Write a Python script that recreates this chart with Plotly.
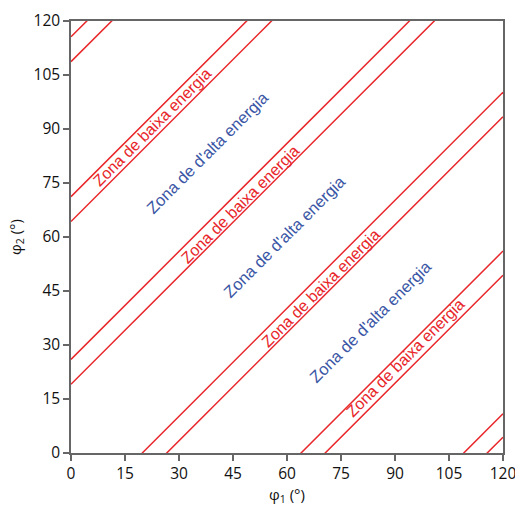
import plotly.graph_objects as go

# boundary lines: phi2 = phi1 + c
line_offsets = [115.6, 108.7, 71.2, 64.3, 26.0, 19.1, -19.8, -26.6, -63.9, -70.6, -109.1, -115.6]

# labels (phi1, phi2) centre positions
low_labels_x = [22.5, 47.0, 69.2, 93.0]
low_labels_y = [90.3, 68.9, 45.8, 26.4]
high_labels_x = [38.0, 59.4, 83.3]
high_labels_y = [83.6, 60.3, 36.7]
low_text = "Zona de baixa energia"
high_text = "Zona de d'alta energia"

tick_vals = [0, 15, 30, 45, 60, 75, 90, 105, 120]

RED = "#e8262a"
BLUE = "#3a56a5"

fig = go.Figure()
for c in line_offsets:
    fig.add_trace(go.Scatter(x=[0, 120], y=[c, 120 + c], mode="lines",
                             line=dict(color=RED, width=1.5),
                             showlegend=False, hoverinfo="skip"))

annotations = []
for x, y in zip(low_labels_x, low_labels_y):
    annotations.append(dict(x=x, y=y, text=low_text, showarrow=False, textangle=-45,
                            font=dict(family="Liberation Sans, Arial", size=16, color=RED)))
for x, y in zip(high_labels_x, high_labels_y):
    annotations.append(dict(x=x, y=y, text=high_text, showarrow=False, textangle=-45,
                            font=dict(family="Liberation Sans, Arial", size=16.5, color=BLUE)))

axis_common = dict(
    range=[0, 120], tickvals=tick_vals, ticks="outside", ticklen=6, tickwidth=1.5,
    tickcolor="#666666", showline=True, linecolor="#666666", linewidth=1.5,
    mirror=True, showgrid=False, zeroline=False, automargin=False,
    ticklabeloverflow="allow",
    tickfont=dict(family="Open Sans, DejaVu Sans", size=15.5, color="#111111"),
)

fig.update_layout(
    width=515, height=507,
    margin=dict(l=71, r=12, t=21, b=54),
    paper_bgcolor="white", plot_bgcolor="white",
    annotations=annotations,
    xaxis=dict(**axis_common,
               title=dict(text="φ<sub>1</sub> (°)", standoff=6,
                          font=dict(family="Open Sans, DejaVu Sans", size=15, color="#111111"))),
    yaxis=dict(**axis_common,
               title=dict(text="φ<sub>2</sub> (°)", standoff=8,
                          font=dict(family="Open Sans, DejaVu Sans", size=15, color="#111111"))),
)

fig.write_html("out.html", config={"displayModeBar": False},
               post_script="document.body.style.margin='0px';document.body.style.overflow='hidden';")
